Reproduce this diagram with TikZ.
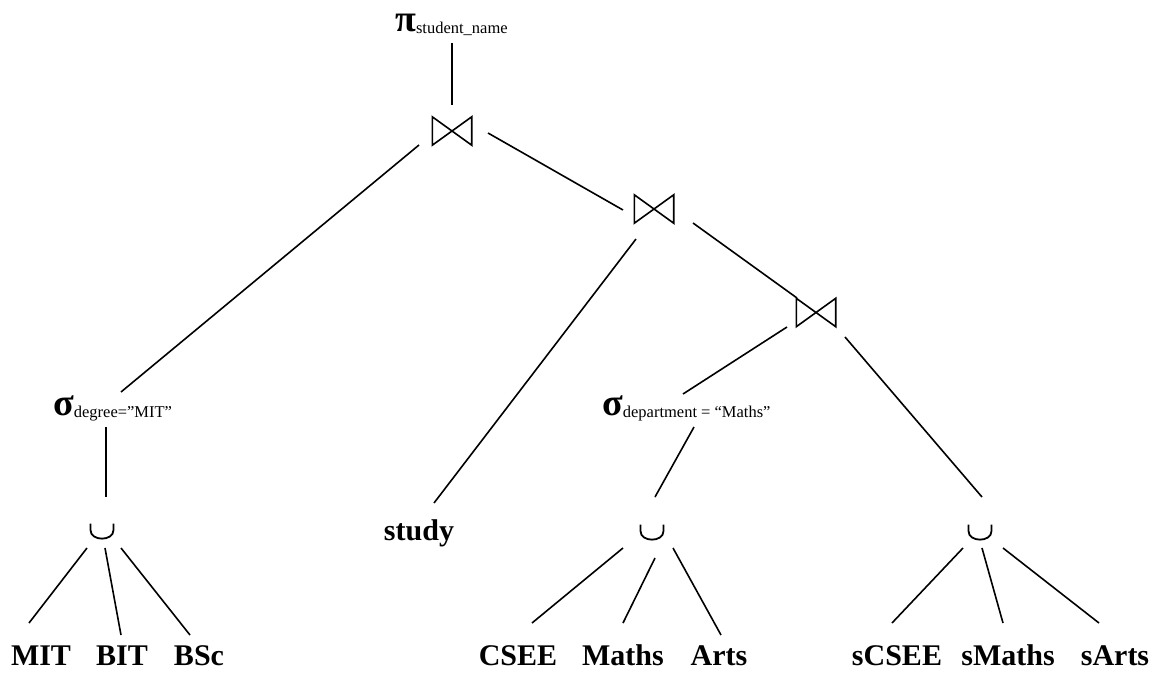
\documentclass[tikz,border=0pt]{standalone}
\usepackage{fontspec}
\setmainfont{Liberation Serif}
\tikzset{
  edge/.style={line width=1.6pt},
  leaf/.style={anchor=base, inner sep=0pt, font=\fontsize{30}{30}\selectfont\bfseries},
  opnode/.style={anchor=base west, inner sep=0pt},
  joinbox/.style={minimum width=39pt, minimum height=28pt, inner sep=0pt},
  unionbox/.style={minimum width=23pt, minimum height=15pt, inner sep=0pt},
}
\newcommand{\bigsym}[1]{{\fontsize{38}{38}\selectfont\bfseries #1}}
\newcommand{\subtxt}[1]{\raisebox{-2pt}{\fontsize{16.5}{16.5}\selectfont #1}}
\newcommand{\conn}[4]{\draw[edge] ([shift={#2}]#1) -- ([shift={#4}]#3);}
\begin{document}
\begin{tikzpicture}[x=1pt,y=-1pt]
\useasboundingbox (0,0) rectangle (1170,673);
% operator nodes
\node[opnode] (pi) at (395,31) {\bigsym{π}\subtxt{student\_name}};
\node[opnode] (s1) at (53,415) {\bigsym{σ}\subtxt{degree=”MIT”}};
\node[opnode] (s2) at (602,415) {\bigsym{σ}\subtxt{department = “Maths”}};
% joins
\node[joinbox] (b1) at (452,131) {};
\node[joinbox] (b2) at (654,209) {};
\node[joinbox] (b3) at (816,312.5) {};
\foreach \n in {b1,b2,b3}
  \draw[edge, line join=miter] (\n.north west) -- (\n.south east) -- (\n.north east) -- (\n.south west) -- cycle;
% unions
\node[unionbox] (u1) at (102,531) {};
\node[unionbox] (u2) at (652,532) {};
\node[unionbox] (u3) at (980,532) {};
\foreach \n in {u1,u2,u3}
  \draw[line width=1.8pt] ([shift={(-11.5,-7.5)}]\n.center) -- ([shift={(-11.5,-1)}]\n.center)
     .. controls ([shift={(-11.5,10.5)}]\n.center) and ([shift={(11.5,10.5)}]\n.center) .. ([shift={(11.5,-1)}]\n.center)
     -- ([shift={(11.5,-7.5)}]\n.center);
% leaves
\node[leaf] (study) at (419,540) {study};
\node[leaf] (MIT) at (41,665) {MIT};
\node[leaf] (BIT) at (122,665) {BIT};
\node[leaf] (BSc) at (199,665) {BSc};
\node[leaf] (CSEE) at (518,665) {CSEE};
\node[leaf] (Maths) at (623,665) {Maths};
\node[leaf] (Arts) at (719,665) {Arts};
\node[leaf] (sCSEE) at (897,665) {sCSEE};
\node[leaf] (sMaths) at (1008,665) {sMaths};
\node[leaf] (sArts) at (1115,665) {sArts};
% connectors
\conn{pi.base west}{(57,12)}{b1.center}{(0,-26)}
\conn{b1.center}{(-33,14)}{s1.base west}{(68,-23)}
\conn{b1.center}{(36,2)}{b2.center}{(-31,1)}
\conn{b2.center}{(-18,30)}{study.base}{(15,-37)}
\conn{b2.center}{(39,14)}{b3.center}{(-19,-14.5)}
\conn{b3.center}{(-29,14.5)}{s2.base west}{(81,-21)}
\conn{b3.center}{(29,24.5)}{u3.center}{(2,-35)}
\conn{s1.base west}{(53,12)}{u1.center}{(4,-34)}
\conn{s2.base west}{(92,12)}{u2.center}{(3,-35)}
\conn{u1.center}{(-15,17)}{MIT.base}{(-12,-42)}
\conn{u1.center}{(3,17)}{BIT.base}{(-1,-30)}
\conn{u1.center}{(19,17)}{BSc.base}{(-9,-30)}
\conn{u2.center}{(-29,16)}{CSEE.base}{(14,-42)}
\conn{u2.center}{(3,26)}{Maths.base}{(0,-42)}
\conn{u2.center}{(21,16)}{Arts.base}{(2,-30)}
\conn{u3.center}{(-17,16)}{sCSEE.base}{(-5,-42)}
\conn{u3.center}{(2,16)}{sMaths.base}{(-5,-42)}
\conn{u3.center}{(23,16)}{sArts.base}{(-16,-42)}
\end{tikzpicture}
\end{document}
